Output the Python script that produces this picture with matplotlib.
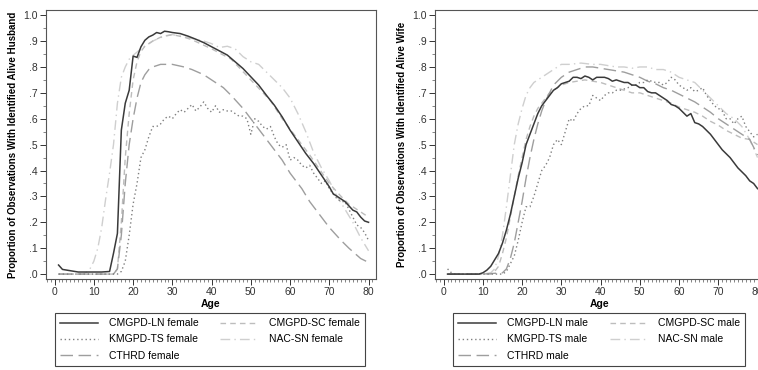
import numpy as np
import matplotlib
matplotlib.use("Agg")
import matplotlib.pyplot as plt
from matplotlib.ticker import MultipleLocator, FuncFormatter

plt.rcParams['font.family'] = ['Liberation Sans', 'DejaVu Sans']

# ---- female panel (husband alive) ----
f_ln_age = [1, 2, 4, 6, 8, 10, 12, 14, 15, 16, 17, 18, 19, 20, 21, 22, 23, 24, 25, 26,
            27, 28, 29, 30, 32, 34, 36, 38, 40, 42, 44, 46, 48, 50, 52, 54, 56, 58,
            60, 62, 64, 66, 68, 70, 71, 72, 73, 74, 76, 77, 78, 79, 80]
f_ln = [0.035, 0.018, 0.013, 0.008, 0.008, 0.008, 0.008, 0.01, 0.08, 0.157, 0.556,
        0.66, 0.71, 0.842, 0.837, 0.878, 0.903, 0.916, 0.923, 0.933, 0.929, 0.938,
        0.936, 0.933, 0.929, 0.919, 0.907, 0.894, 0.878, 0.862, 0.846, 0.82, 0.794,
        0.762, 0.73, 0.69, 0.652, 0.607, 0.556, 0.511, 0.466, 0.427, 0.382, 0.337,
        0.31, 0.30, 0.29, 0.28, 0.247, 0.24, 0.22, 0.205, 0.20]

f_ts_age = list(range(1, 81))
f_ts = [0.0] * 16 + [
    0.01, 0.05, 0.15, 0.27, 0.35, 0.45, 0.48, 0.53, 0.57, 0.57, 0.58, 0.6, 0.61, 0.6,
    0.62, 0.635, 0.625, 0.64, 0.655, 0.63, 0.645, 0.665, 0.64, 0.625, 0.65, 0.625,
    0.635, 0.63, 0.63, 0.62, 0.61, 0.61, 0.6, 0.54, 0.6, 0.59, 0.57, 0.56, 0.57,
    0.53, 0.5, 0.49, 0.5, 0.44, 0.45, 0.44, 0.42, 0.41, 0.42, 0.39, 0.37, 0.35,
    0.36, 0.33, 0.31, 0.29, 0.28, 0.28, 0.25, 0.22, 0.19, 0.18, 0.16, 0.13]

f_cthrd_age = [1, 5, 10, 15, 16, 17, 18, 19, 20, 21, 22, 23, 24, 25, 27, 30, 33, 35,
               38, 40, 43, 45, 48, 50, 53, 55, 58, 60, 63, 65, 68, 70, 73, 75, 78, 80]
f_cthrd = [0.0, 0.0, 0.0, 0.0, 0.02, 0.15, 0.35, 0.5, 0.6, 0.68, 0.74, 0.77, 0.79,
           0.8, 0.81, 0.81, 0.8, 0.79, 0.77, 0.75, 0.72, 0.69, 0.64, 0.6, 0.54, 0.5,
           0.44, 0.39, 0.33, 0.28, 0.22, 0.18, 0.13, 0.1, 0.06, 0.045]

f_sc_age = [1, 5, 10, 15, 16, 17, 18, 19, 20, 21, 22, 23, 25, 27, 30, 33, 35, 40,
            45, 50, 55, 58, 60, 65, 70, 73, 75, 77, 80]
f_sc = [0.0, 0.0, 0.0, 0.0, 0.02, 0.2, 0.45, 0.62, 0.75, 0.82, 0.86, 0.88, 0.9,
        0.915, 0.925, 0.915, 0.905, 0.87, 0.83, 0.75, 0.67, 0.6, 0.56, 0.46, 0.35,
        0.3, 0.27, 0.25, 0.22]

f_nac_age = [1, 5, 7, 8, 9, 10, 11, 12, 13, 14, 15, 16, 17, 18, 19, 20, 22, 25, 28,
             30, 35, 38, 40, 42, 44, 46, 48, 50, 52, 54, 56, 58, 60, 62, 64, 66,
             68, 70, 72, 74, 76, 78, 80]
f_nac = [0.0, 0.0, 0.0, 0.005, 0.02, 0.05, 0.1, 0.18, 0.29, 0.39, 0.5, 0.66, 0.76,
         0.8, 0.83, 0.845, 0.87, 0.9, 0.92, 0.925, 0.91, 0.9, 0.89, 0.875, 0.88,
         0.87, 0.84, 0.82, 0.81, 0.78, 0.75, 0.72, 0.68, 0.62, 0.55, 0.47, 0.41,
         0.36, 0.3, 0.25, 0.2, 0.14, 0.09]

# ---- male panel (wife alive) ----
m_ln_age = list(range(1, 81))
m_ln = [0.0] * 9 + [
    0.005, 0.015, 0.03, 0.055, 0.08, 0.12, 0.17, 0.23, 0.3, 0.37, 0.43, 0.5, 0.54,
    0.58, 0.62, 0.65, 0.67, 0.69, 0.71, 0.72, 0.735, 0.74, 0.745, 0.76, 0.76, 0.755,
    0.765, 0.76, 0.75, 0.76, 0.76, 0.76, 0.755, 0.745, 0.75, 0.745, 0.74, 0.74, 0.73,
    0.73, 0.72, 0.72, 0.705, 0.7, 0.7, 0.69, 0.68, 0.67, 0.655, 0.65, 0.64, 0.625,
    0.61, 0.62, 0.585, 0.58, 0.57, 0.555, 0.54, 0.52, 0.5, 0.48, 0.465, 0.45, 0.43,
    0.41, 0.395, 0.38, 0.36, 0.35, 0.33]

m_ts_age = list(range(1, 81))
m_ts = [0.02, 0.005] + [0.0] * 13 + [
    0.01, 0.04, 0.07, 0.13, 0.2, 0.26, 0.26, 0.3, 0.35, 0.4, 0.42, 0.45, 0.5,
    0.52, 0.5, 0.55, 0.6, 0.59, 0.62, 0.64, 0.65, 0.65, 0.69, 0.68, 0.67, 0.69, 0.7,
    0.7, 0.71, 0.71, 0.715, 0.72, 0.73, 0.73, 0.74, 0.74, 0.75, 0.745, 0.74, 0.74,
    0.73, 0.74, 0.76, 0.75, 0.73, 0.72, 0.71, 0.72, 0.705, 0.71, 0.72, 0.69, 0.67,
    0.65, 0.64, 0.63, 0.6, 0.6, 0.58, 0.6, 0.61, 0.57, 0.55, 0.53, 0.54]

m_cthrd_age = [1, 5, 10, 15, 16, 17, 18, 19, 20, 21, 22, 23, 24, 25, 26, 27, 28, 30,
               32, 34, 36, 38, 40, 42, 44, 46, 48, 50, 52, 54, 56, 58, 60, 62, 64,
               66, 68, 70, 72, 74, 76, 78, 80]
m_cthrd = [0.0, 0.0, 0.0, 0.005, 0.02, 0.06, 0.12, 0.2, 0.28, 0.37, 0.45, 0.52,
           0.58, 0.63, 0.67, 0.7, 0.73, 0.76, 0.78, 0.79, 0.8, 0.8, 0.795, 0.79,
           0.785, 0.78, 0.77, 0.76, 0.745, 0.735, 0.72, 0.71, 0.695, 0.68, 0.665,
           0.645, 0.625, 0.6, 0.58, 0.56, 0.54, 0.52, 0.46]

m_sc_age = [1, 5, 10, 12, 13, 14, 15, 16, 17, 18, 19, 20, 21, 22, 23, 24, 25, 26,
            27, 28, 30, 32, 34, 36, 38, 40, 42, 44, 46, 48, 50, 52, 54, 56, 58, 60,
            62, 64, 66, 68, 70, 72, 74, 76, 78, 80]
m_sc = [0.0, 0.0, 0.0, 0.0, 0.01, 0.03, 0.08, 0.14, 0.22, 0.3, 0.38, 0.45, 0.52,
        0.57, 0.61, 0.64, 0.66, 0.68, 0.7, 0.71, 0.73, 0.74, 0.745, 0.75, 0.745,
        0.74, 0.73, 0.72, 0.71, 0.7, 0.7, 0.69, 0.68, 0.67, 0.66, 0.645, 0.635,
        0.625, 0.61, 0.59, 0.575, 0.555, 0.54, 0.525, 0.52, 0.5]

m_nac_age = [1, 5, 10, 12, 13, 14, 15, 16, 17, 18, 19, 20, 21, 22, 23, 24, 25, 27, 29,
             30, 32, 35, 38, 40, 42, 44, 46, 48, 50, 52, 54, 56, 58, 60, 62, 64, 66,
             68, 70, 72, 74, 76, 78, 80]
m_nac = [0.0, 0.0, 0.0, 0.005, 0.02, 0.07, 0.15, 0.26, 0.38, 0.5, 0.58, 0.64, 0.69,
         0.72, 0.74, 0.75, 0.76, 0.78, 0.8, 0.81, 0.81, 0.815, 0.81, 0.81, 0.805,
         0.8, 0.8, 0.795, 0.8, 0.8, 0.79, 0.79, 0.78, 0.76, 0.75, 0.74, 0.71,
         0.68, 0.65, 0.62, 0.6, 0.57, 0.52, 0.45]

sources = ["CMGPD-LN", "KMGPD-TS", "CTHRD", "CMGPD-SC", "NAC-SN"]

# line looks for each source, same order as sources
styles = [
    dict(color="#3a3a3a", lw=1.1, linestyle="-"),
    dict(color="#808080", lw=1.0, linestyle=(0, (1, 2))),
    dict(color="#9e9e9e", lw=1.0, linestyle=(0, (9, 4))),
    dict(color="#bdbdbd", lw=1.0, linestyle=(0, (4, 3))),
    dict(color="#cfcfcf", lw=1.0, linestyle=(0, (7, 3, 1, 3))),
]

panels = [
    dict(rect=[46 / 758, 1 - 279 / 370, 330 / 758, 269 / 370],
         series=[(f_ln_age, f_ln), (f_ts_age, f_ts), (f_cthrd_age, f_cthrd),
                 (f_sc_age, f_sc), (f_nac_age, f_nac)],
         sex="female", ylabel="Proportion of Observations With Identified Alive Husband",
         legend_x=55),
    dict(rect=[435 / 758, 1 - 279 / 370, 330 / 758, 269 / 370],
         series=[(m_ln_age, m_ln), (m_ts_age, m_ts), (m_cthrd_age, m_cthrd),
                 (m_sc_age, m_sc), (m_nac_age, m_nac)],
         sex="male", ylabel="Proportion of Observations With Identified Alive Wife",
         legend_x=453),
]


def yfmt(v, pos):
    if abs(v - 1.0) < 1e-9:
        return "1.0"
    return ".%d" % int(round(v * 10))


fig = plt.figure(figsize=(7.58, 3.70), dpi=100)

for p in panels:
    ax = fig.add_axes(p["rect"])
    # draw lighter series first so the solid one ends on top
    order = [4, 3, 2, 1, 0]
    handles = [None] * 5
    for i in order:
        x, y = p["series"][i]
        line, = ax.plot(x, y, label="%s %s" % (sources[i], p["sex"]), **styles[i])
        handles[i] = line

    ax.set_xlim(-2.2, 81.9)
    ax.set_ylim(-0.019, 1.02)
    ax.xaxis.set_major_locator(MultipleLocator(10))
    ax.xaxis.set_minor_locator(MultipleLocator(1))
    ax.yaxis.set_major_locator(MultipleLocator(0.1))
    ax.yaxis.set_minor_locator(MultipleLocator(0.05))
    ax.yaxis.set_major_formatter(FuncFormatter(yfmt))
    ax.tick_params(which="major", length=4, width=0.7, labelsize=7.5, pad=2,
                   colors="#333333")
    ax.tick_params(which="minor", length=2, width=0.5, colors="#555555")
    for s in ax.spines.values():
        s.set_color("#555555")
        s.set_linewidth(0.8)
    ax.set_xlabel("Age", fontsize=7.5, fontweight="bold", labelpad=1)
    ax.set_ylabel(p["ylabel"], fontsize=7, fontweight="bold", labelpad=4)

    lx = p["legend_x"] / 758
    leg = fig.legend(handles=handles, loc="upper left", ncol=2,
                     bbox_to_anchor=(lx, 1 - 313 / 370), borderaxespad=0,
                     fontsize=7.5, handlelength=3.6, handletextpad=1.05,
                     columnspacing=2.1, labelspacing=0.6, borderpad=0.5,
                     fancybox=False, framealpha=1)
    leg.get_frame().set_edgecolor("#444444")
    leg.get_frame().set_linewidth(0.8)

fig.savefig("out.png", dpi=100)
